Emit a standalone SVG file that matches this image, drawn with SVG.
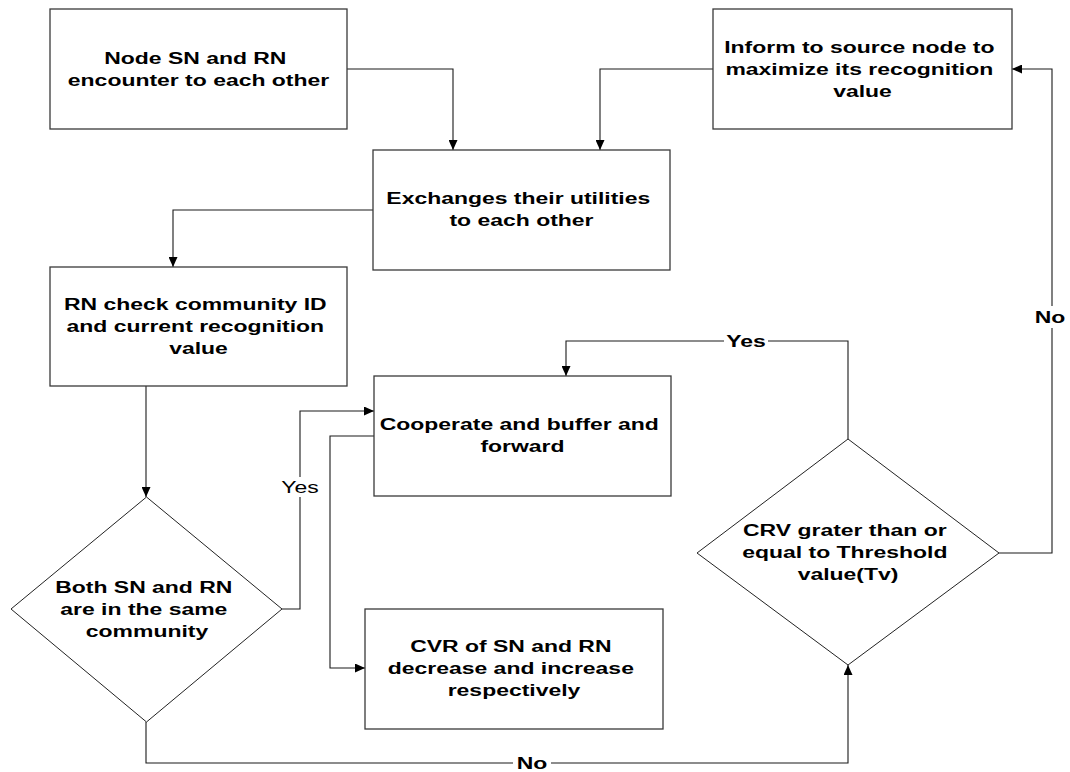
<svg xmlns="http://www.w3.org/2000/svg" width="1070" height="772" viewBox="0 0 1070 772">
  <style>
    .box { fill: #ffffff; stroke: #3a3a3a; stroke-width: 1.3; }
    .dia { fill: #ffffff; stroke: #222222; stroke-width: 1; }
    .t { font-family: "Liberation Sans", Arial, sans-serif; font-size: 17px; font-weight: bold; fill: #000000; text-anchor: middle; }
    .lbl { font-family: "Liberation Sans", Arial, sans-serif; font-size: 17px; font-weight: bold; fill: #000000; text-anchor: middle; }
    .lbl-r { font-family: "Liberation Sans", Arial, sans-serif; font-size: 17px; font-weight: normal; fill: #000000; text-anchor: middle; }
    .wire { fill: none; stroke: #1a1a1a; stroke-width: 1.1; }
    .gap { fill: #ffffff; }
  </style>
  <defs>
    <marker id="ah" markerUnits="userSpaceOnUse" markerWidth="10" markerHeight="9" refX="10" refY="4.5" orient="auto">
      <path d="M0,0 L10,4.5 L0,9 Z" fill="#000000"/>
    </marker>
  </defs>
  <rect width="1070" height="772" fill="#ffffff"/>

  <!-- connectors -->
  <g id="connectors">
    <path class="wire" d="M347,69 H453 V150" marker-end="url(#ah)"/>
    <path class="wire" d="M713,69 H600 V150" marker-end="url(#ah)"/>
    <path class="wire" d="M373,210 H173 V267" marker-end="url(#ah)"/>
    <path class="wire" d="M146,386 V497" marker-end="url(#ah)"/>
    <path class="wire" d="M282,609 H300 V411 H374" marker-end="url(#ah)"/>
    <path class="wire" d="M374,436 H330 V668 H365" marker-end="url(#ah)"/>
    <path class="wire" d="M146,722 V763 H848 V665" marker-end="url(#ah)"/>
    <path class="wire" d="M848,439 V341 H566 V376" marker-end="url(#ah)"/>
    <path class="wire" d="M999,553 H1052 V69 H1012" marker-end="url(#ah)"/>

    <!-- branch labels -->
    <rect class="gap" x="279" y="477" width="42" height="20"/>
    <text class="lbl-r" transform="translate(300 0) scale(1.35 1)" x="0" y="493">Yes</text>
    <rect class="gap" x="724" y="332" width="44" height="18"/>
    <text class="lbl" transform="translate(746 0) scale(1.35 1)" x="0" y="347">Yes</text>
    <rect class="gap" x="513" y="754" width="38" height="18"/>
    <text class="lbl" transform="translate(532 0) scale(1.35 1)" x="0" y="769">No</text>
    <rect class="gap" x="1032" y="306" width="36" height="22"/>
    <text class="lbl" transform="translate(1050 0) scale(1.35 1)" x="0" y="323">No</text>
  </g>

  <g id="node-encounter">
    <rect class="box" x="50" y="9" width="297" height="120"/>
    <text class="t" transform="translate(198.5 0) scale(1.35 1)">
      <tspan x="0" y="64">Node SN and RN</tspan>
      <tspan x="0" y="86">encounter to each other</tspan>
    </text>
  </g>

  <g id="node-exchange">
    <rect class="box" x="373" y="150" width="297" height="120"/>
    <text class="t" transform="translate(521.5 0) scale(1.35 1)">
      <tspan x="0" y="204">Exchanges their utilities</tspan>
      <tspan x="0" y="226">to each other</tspan>
    </text>
  </g>

  <g id="node-inform">
    <rect class="box" x="713" y="9" width="299" height="120"/>
    <text class="t" transform="translate(862.5 0) scale(1.35 1)">
      <tspan x="0" y="53">Inform to source node to</tspan>
      <tspan x="0" y="75">maximize its recognition</tspan>
      <tspan x="0" y="97">value</tspan>
    </text>
  </g>

  <g id="node-check">
    <rect class="box" x="50" y="267" width="297" height="119"/>
    <text class="t" transform="translate(198.5 0) scale(1.35 1)">
      <tspan x="0" y="310">RN check community ID</tspan>
      <tspan x="0" y="332">and current recognition</tspan>
      <tspan x="0" y="354">value</tspan>
    </text>
  </g>

  <g id="node-cooperate">
    <rect class="box" x="374" y="376" width="297" height="120"/>
    <text class="t" transform="translate(522.5 0) scale(1.35 1)">
      <tspan x="0" y="430">Cooperate and buffer and</tspan>
      <tspan x="0" y="452">forward</tspan>
    </text>
  </g>

  <g id="node-cvr">
    <rect class="box" x="365" y="609" width="298" height="120"/>
    <text class="t" transform="translate(514 0) scale(1.35 1)">
      <tspan x="0" y="652">CVR of SN and RN</tspan>
      <tspan x="0" y="674">decrease and increase</tspan>
      <tspan x="0" y="696">respectively</tspan>
    </text>
  </g>

  <g id="node-same-community">
    <polygon class="dia" points="146.5,497 282,609 146.5,722 11,609"/>
    <text class="t" transform="translate(147 0) scale(1.35 1)">
      <tspan x="0" y="593">Both SN and RN</tspan>
      <tspan x="0" y="615">are in the same</tspan>
      <tspan x="0" y="637">community</tspan>
    </text>
  </g>

  <g id="node-threshold">
    <polygon class="dia" points="848,439 999,553 848,665 697,553"/>
    <text class="t" transform="translate(848 0) scale(1.35 1)">
      <tspan x="0" y="536">CRV grater than or</tspan>
      <tspan x="0" y="558">equal to Threshold</tspan>
      <tspan x="0" y="580">value(Tv)</tspan>
    </text>
  </g>
</svg>
